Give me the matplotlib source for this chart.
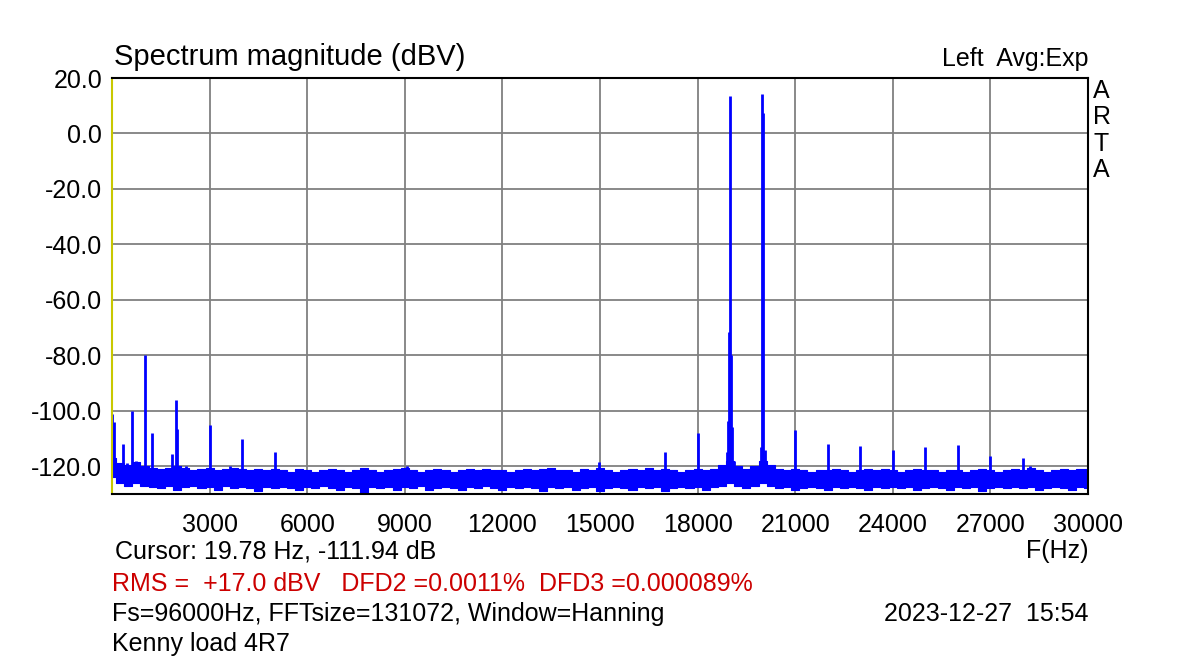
import numpy as np
import matplotlib.pyplot as plt

# noise floor envelope, one value per 250 Hz from 0 to 30000 Hz (dBV)
floor_freq = np.arange(0, 30001, 250)
floor_top = [
    -117, -119, -119.5, -118.5, -120, -120.5, -121, -120.5, -120, -120.5,
    -121.5, -121, -120.5, -121.5, -121, -120.5, -121, -121.5, -121, -121.5,
    -121, -121.5, -122, -121, -121.5, -122, -121.5, -121, -121.5, -122,
    -121.5, -120.5, -121.5, -122, -121.5, -121, -120.5, -121.5, -122, -121.5,
    -121, -121.5, -122, -121.5, -121, -121.5, -121, -121.5, -121.5, -122,
    -121.5, -121, -121.5, -121, -120.5, -121.5, -121.5, -122, -121, -121.5,
    -120.5, -121.5, -122, -121.5, -121, -121.5, -120.5, -121.5, -121, -121.5,
    -122, -121.5, -121, -121.5, -121, -119.5, -118, -120, -121, -120,
    -118, -119.5, -121, -121.5, -121, -121.5, -122, -121.5, -121.5, -121,
    -121.5, -122, -121.5, -121, -121.5, -121, -121.5, -122, -121.5, -121,
    -121.5, -121.5, -122, -121.5, -121.5, -122, -121.5, -121, -121.5, -122,
    -121.5, -121, -121.5, -120.5, -121.5, -122, -121.5, -121, -121.5, -121,
    -121,
]
floor_bottom = [
    -124, -126, -127, -126, -127, -127.5, -128, -127, -128.5, -127.5,
    -127, -128, -127.5, -128.5, -127, -128, -127.5, -128, -129, -127.5,
    -128, -127.5, -128, -128.5, -127.5, -128, -127, -128, -128.5, -127.5,
    -128, -129.5, -127.5, -128, -127.5, -128.5, -127.5, -128, -127, -128.5,
    -128, -127.5, -128, -128.5, -127.5, -128, -127, -128, -128.5, -127.5,
    -128, -127.5, -128, -129, -127.5, -128, -127.5, -128.5, -128, -127.5,
    -129, -128, -127.5, -128, -128.5, -127.5, -128, -127.5, -129, -128,
    -127.5, -128, -127.5, -128.5, -127.5, -127, -126, -127, -128, -127,
    -126, -127, -128, -127.5, -128.5, -128, -127.5, -128, -128.5, -127.5,
    -128, -127.5, -128, -128.5, -127.5, -128, -127.5, -128, -127.5, -128.5,
    -128, -127.5, -128, -128.5, -127.5, -128, -127.5, -129, -128, -127.5,
    -128, -127.5, -128, -127.5, -128.5, -128, -127.5, -128, -128.5, -127.5,
    -128,
]

# spectral lines (Hz, dBV)
peak_freq = [10, 60, 350, 470, 615, 740, 1000, 1220, 1835, 1970,
             2010, 2275, 3000, 3615, 4000, 5000, 9060, 14980, 17000, 18000,
             18900, 18930, 18950, 18990, 19040, 19070, 19110, 19950, 19970, 20020,
             20060, 21000, 22000, 23000, 24000, 25000, 26000, 27000, 28000, 28230]
peak_db = [-101, -104, -112, -119, -100, -118, -80, -108, -115.5, -96,
           -106.5, -120, -105, -120, -110, -115, -120, -118.5, -115, -108,
           -115, -103.5, -71.5, 13.5, -80, -106, -118, -113, 14.2, 7.5,
           -114, -107, -112, -112.7, -114, -113, -112.2, -116.3, -117, -119.8]

x_ticks = list(range(3000, 30001, 3000))
y_ticks = list(range(-120, 21, 20))

plt.rcParams['font.family'] = ['Liberation Sans', 'DejaVu Sans']
blue = '#0000ff'

fig = plt.figure(figsize=(12, 6.6), dpi=100)
ax = fig.add_axes([112/1200, 1-494/660, 976/1200, 416/660])

ax.fill_between(floor_freq, floor_bottom, floor_top, step='mid', color=blue, lw=0.8)
ax.vlines(peak_freq, -124, peak_db, color=blue, lw=2)

ax.set_xlim(0, 30000)
ax.set_ylim(-130, 20)
ax.set_xticks(x_ticks)
ax.set_xticklabels([str(t) for t in x_ticks])
ax.set_yticks(y_ticks)
ax.set_yticklabels(['%.1f' % t for t in y_ticks])
ax.tick_params(length=0, labelsize=18)
ax.tick_params(axis='x', pad=14)
ax.tick_params(axis='y', pad=7)
ax.grid(True, color='#808080', lw=1.3)
ax.set_axisbelow(True)
for s in ['top', 'right', 'bottom']:
    ax.spines[s].set_color('black')
    ax.spines[s].set_linewidth(1.5)
ax.spines['left'].set_color('#c8c800')
ax.spines['left'].set_linewidth(1.5)

def ftext(x, y, s, **kw):
    fig.text(x/1200, 1-y/660, s, va='center', **kw)

ftext(114, 57, 'Spectrum magnitude (dBV)', fontsize=21)
ftext(1088, 59, 'Left  Avg:Exp', fontsize=18, ha='right')
for i, ch in enumerate('ARTA'):
    ftext(1093, 91 + i*26.3, ch, fontsize=18)
ftext(115, 551, 'Cursor: 19.78 Hz, -111.94 dB', fontsize=18)
ftext(1088, 551, 'F(Hz)', fontsize=18, ha='right')
ftext(112, 584, 'RMS =  +17.0 dBV   DFD2 =0.0011%  DFD3 =0.000089%', fontsize=18, color='#cc0000')
ftext(112, 614, 'Fs=96000Hz, FFTsize=131072, Window=Hanning', fontsize=18)
ftext(1088, 614, '2023-12-27  15:54', fontsize=18, ha='right')
ftext(112, 644, 'Kenny load 4R7', fontsize=18)

fig.savefig('out.png', dpi=100)
